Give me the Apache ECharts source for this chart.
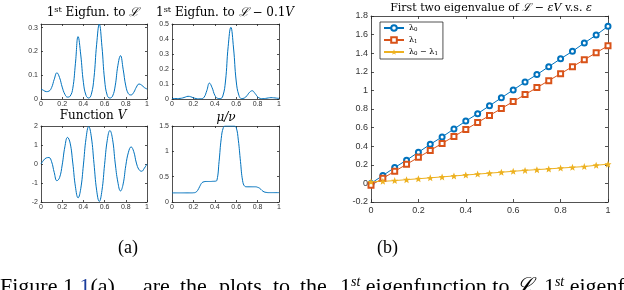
<!DOCTYPE html>
<html><head><meta charset="utf-8">
<script src="https://cdn.jsdelivr.net/npm/echarts@6/dist/echarts.min.js"></script>
<style>html,body{margin:0;padding:0;background:#fff}#c{width:624px;height:290px}</style>
</head><body><div id="c"></div>
<script>
// ---- data ----
const xA = [0,0.025,0.05,0.075,0.1,0.125,0.15,0.175,0.2,0.225,0.25,0.275,0.3,0.325,0.35,0.375,0.4,0.425,0.45,0.475,0.5,0.525,0.55,0.575,0.6,0.625,0.65,0.675,0.7,0.725,0.75,0.775,0.8,0.825,0.85,0.875,0.9,0.925,0.95,0.975,1];
const eigL = [0.042,0.036,0.031,0.033,0.048,0.083,0.110,0.090,0.050,0.020,0.008,0.012,0.045,0.150,0.262,0.185,0.070,0.015,0.004,0.020,0.090,0.230,0.314,0.220,0.080,0.015,0.004,0.012,0.055,0.140,0.182,0.125,0.055,0.022,0.017,0.028,0.050,0.063,0.058,0.048,0.042];
const eigLV = [0.004,0.003,0.003,0.004,0.007,0.013,0.018,0.015,0.008,0.003,0.001,0.002,0.012,0.055,0.106,0.075,0.025,0.005,0.002,0.020,0.120,0.350,0.478,0.340,0.120,0.025,0.003,0.006,0.022,0.045,0.055,0.038,0.015,0.004,0.002,0.004,0.007,0.009,0.008,0.006,0.004];
const funcV = [0.0,0.2,0.32,0.34,0.12,-0.45,-0.88,-0.72,-0.05,0.9,1.4,1.1,0.05,-1.2,-1.78,-1.3,-0.05,1.35,1.97,1.42,0.02,-1.38,-1.97,-1.4,-0.02,1.25,1.76,1.3,0.05,-0.95,-1.42,-1.05,-0.08,0.62,0.9,0.65,0.05,-0.3,-0.38,-0.22,0.0];
const xMu = [0,0.02,0.04,0.06,0.08,0.1,0.12,0.14,0.16,0.18,0.2,0.22,0.24,0.26,0.28,0.3,0.32,0.34,0.36,0.38,0.4,0.42,0.44,0.46,0.48,0.5,0.52,0.54,0.56,0.58,0.6,0.62,0.64,0.66,0.68,0.7,0.72,0.74,0.76,0.78,0.8,0.82,0.84,0.86,0.88,0.9,0.92,0.94,0.96,0.98,1];
const muNu = [0.18,0.18,0.18,0.18,0.18,0.18,0.18,0.18,0.18,0.18,0.182,0.19,0.23,0.31,0.38,0.40,0.405,0.405,0.405,0.408,0.41,0.43,0.80,1.25,1.47,1.50,1.50,1.50,1.50,1.50,1.47,1.22,0.80,0.42,0.31,0.30,0.30,0.30,0.30,0.30,0.29,0.27,0.23,0.20,0.19,0.185,0.185,0.185,0.185,0.185,0.185];
const eps = [0,0.05,0.1,0.15,0.2,0.25,0.3,0.35,0.4,0.45,0.5,0.55,0.6,0.65,0.7,0.75,0.8,0.85,0.9,0.95,1];
const lambda0 = [0.0,0.085,0.17,0.25,0.335,0.42,0.50,0.585,0.67,0.75,0.835,0.92,1.005,1.09,1.17,1.255,1.34,1.42,1.51,1.595,1.69];
const lambda1 = [-0.02,0.055,0.13,0.205,0.28,0.355,0.43,0.505,0.58,0.655,0.73,0.805,0.88,0.955,1.03,1.105,1.18,1.255,1.33,1.405,1.48];
const lambdaDiff = [0.017,0.022,0.03,0.04,0.05,0.06,0.07,0.08,0.09,0.10,0.11,0.12,0.13,0.14,0.148,0.156,0.165,0.173,0.181,0.195,0.207];
const seriesNames = ['λ0','λ1','λ0 − λ1'];

// ---- layout helpers ----
const BOX = '#262626';
const grids = [
  {left:41, top:24, width:106, height:75},
  {left:172, top:24, width:107, height:75},
  {left:41, top:126, width:106, height:76},
  {left:172, top:126, width:107, height:76},
  {left:371, top:16, width:237, height:186}
];
const xAxes = [], yAxes = [];
function addX(gi, min, max, interval, fs, margin, tickLen) {
  const base = {gridIndex:gi, type:'value', min, max, interval,
    axisLine:{show:true, onZero:false, lineStyle:{color:BOX, width:0.8}},
    axisTick:{show:true, inside:true, length:tickLen, lineStyle:{color:BOX, width:0.8}},
    splitLine:{show:false}};
  xAxes.push(Object.assign({}, base, {position:'bottom',
    axisLabel:{show:true, fontSize:fs, color:'#333', margin, fontFamily:'Liberation Sans'}}));
  xAxes.push(Object.assign({}, base, {position:'top', axisLabel:{show:false}}));
}
function addY(gi, min, max, interval, fs, margin, tickLen, hideMax) {
  const base = {gridIndex:gi, type:'value', min, max, interval,
    axisLine:{show:true, onZero:false, lineStyle:{color:BOX, width:0.8}},
    axisTick:{show:true, inside:true, length:tickLen, lineStyle:{color:BOX, width:0.8}},
    splitLine:{show:false}};
  yAxes.push(Object.assign({}, base, {position:'left',
    axisLabel:{show:true, fontSize:fs, color:'#333', margin, showMaxLabel:!hideMax, fontFamily:'Liberation Sans'}}));
  yAxes.push(Object.assign({}, base, {position:'right', axisLabel:{show:false}}));
}
addX(0,0,1,0.2,7,2,2); addY(0,0,0.315,0.1,7,3,2,true);
addX(1,0,1,0.2,7,2,2); addY(1,0,0.5,0.1,7,3,2,false);
addX(2,0,1,0.2,7,2,2); addY(2,-2,2,1,7,3,2,false);
addX(3,0,1,0.2,7,2,2); addY(3,0,1.5,0.5,7,3,2,false);
addX(4,0,1,0.2,9,4,3); addY(4,-0.2,1.8,0.2,9,3,3,false);

const zip = (xs, ys) => xs.map((x,i)=>[x, ys[i]]);
const curve = (gi, xs, ys) => ({type:'line', xAxisIndex:gi*2, yAxisIndex:gi*2, data:zip(xs,ys),
  showSymbol:false, smooth:0.45, lineStyle:{color:'#0072BD', width:1}, itemStyle:{color:'#0072BD'}, silent:true, animation:false});

const STAR = 'path://M0,-10 L2.6,-3.3 L9.5,-3.1 L4.2,1.3 L5.9,8.1 L0,4.2 L-5.9,8.1 L-4.2,1.3 L-9.5,-3.1 L-2.6,-3.3 Z';
const mk = (name, ys, color, symbol, size, filled) => ({type:'line', name, xAxisIndex:8, yAxisIndex:8,
  data:zip(eps, ys), symbol, symbolSize:size, showAllSymbol:true,
  lineStyle:{color, width:1}, itemStyle: filled ? {color} : {color, borderColor:color, borderWidth:1},
  animation:false});

const TF = 'DejaVu Serif';
const mkTitle = (text, x, y, fs, lh) => ({text, left:x, top:y, textAlign:'center', padding:0,
  textStyle:{fontSize:fs, fontFamily:TF, fontWeight:'normal', color:'#000', lineHeight:lh,
    rich:{
      n:{fontSize:fs, fontFamily:TF, color:'#000', lineHeight:lh},
      it:{fontSize:fs, fontFamily:TF, fontStyle:'italic', color:'#000', lineHeight:lh},
      sup:{fontSize:fs*0.68, fontFamily:TF, verticalAlign:'top', lineHeight:lh, color:'#000'}
    }}});

const chart = echarts.init(document.getElementById('c'), null, {renderer:'canvas'});
chart.setOption({
  animation:false,
  backgroundColor:'#fff',
  title:[
    mkTitle('{n|1}{sup|st}{n| Eigfun. to }{it|ℒ}', 93, 6, 12, 14),
    mkTitle('{n|1}{sup|st}{n| Eigfun. to }{it|ℒ}{n| − 0.1}{it|V}', 225, 6, 12, 14),
    mkTitle('{n|Function }{it|V}', 93, 109, 12, 14),
    mkTitle('{it|μ/ν}', 226, 111, 12, 14),
    mkTitle('{n|First two eigenvalue of }{it|ℒ}{n| − }{it|εV}{n| v.s. }{it|ε}', 491, 2, 11, 13)
  ],
  grid: grids,
  xAxis: xAxes,
  yAxis: yAxes,
  legend:{
    data: seriesNames, left:380, top:22, orient:'vertical', itemWidth:20, itemHeight:7, itemGap:3,
    padding:[2,5,2,3], borderColor:BOX, borderWidth:0.8, backgroundColor:'#fff',
    textStyle:{fontSize:8, fontFamily:'DejaVu Serif', color:'#000',
      rich:{a:{fontSize:8, fontFamily:'DejaVu Serif'}, s:{fontSize:5.5, fontFamily:'DejaVu Serif', verticalAlign:'bottom', lineHeight:10}}},
    formatter: n => n === 'λ0' ? '{a|λ}{s|0}' : n === 'λ1' ? '{a|λ}{s|1}' : '{a|λ}{s|0}{a| − λ}{s|1}',
    selectedMode:false
  },
  series:[
    curve(0, xA, eigL),
    curve(1, xA, eigLV),
    curve(2, xA, funcV),
    curve(3, xMu, muNu),
    mk(seriesNames[0], lambda0, '#0072BD', 'emptyCircle', 5, false),
    mk(seriesNames[1], lambda1, '#D95319', 'emptyRect', 5, false),
    mk(seriesNames[2], lambdaDiff, '#EDB120', STAR, 7, true)
  ],
  graphic:(function(){
    const rich = {
      n:{fontSize:22, fontFamily:'Liberation Serif', fill:'#000', lineHeight:24},
      b:{fontSize:22, fontFamily:'Liberation Serif', fill:'#1a3d9c', lineHeight:24},
      i:{fontSize:22, fontFamily:'Liberation Serif', fontStyle:'italic', fill:'#000', lineHeight:24},
      s:{fontSize:14, fontFamily:'Liberation Serif', fontStyle:'italic', fill:'#000', verticalAlign:'top', lineHeight:24}
    };
    const cap = (x, text) => ({type:'text', x, y:275, style:{text, fontSize:22, fontFamily:'Liberation Serif', fill:'#000', rich}});
    return [
      {type:'text', left:118, top:239, style:{text:'(a)', fontSize:18, fontFamily:'Liberation Serif', fill:'#000'}},
      {type:'text', left:377, top:239, style:{text:'(b)', fontSize:18, fontFamily:'Liberation Serif', fill:'#000'}},
      cap(0, '{n|Figure 1.}{b|1}{n|(a)}'),
      cap(143, '{n|are}'),
      cap(180, '{n|the}'),
      cap(219, '{n|plots}'),
      cap(273, '{n|to}'),
      cap(300, '{n|the}'),
      cap(340, '{n|1}{s|st}{n| eigenfunction to }{i|ℒ}{n|, 1}{s|st}{n| eigenfunction}')
    ];
  })()
});
</script></body></html>
